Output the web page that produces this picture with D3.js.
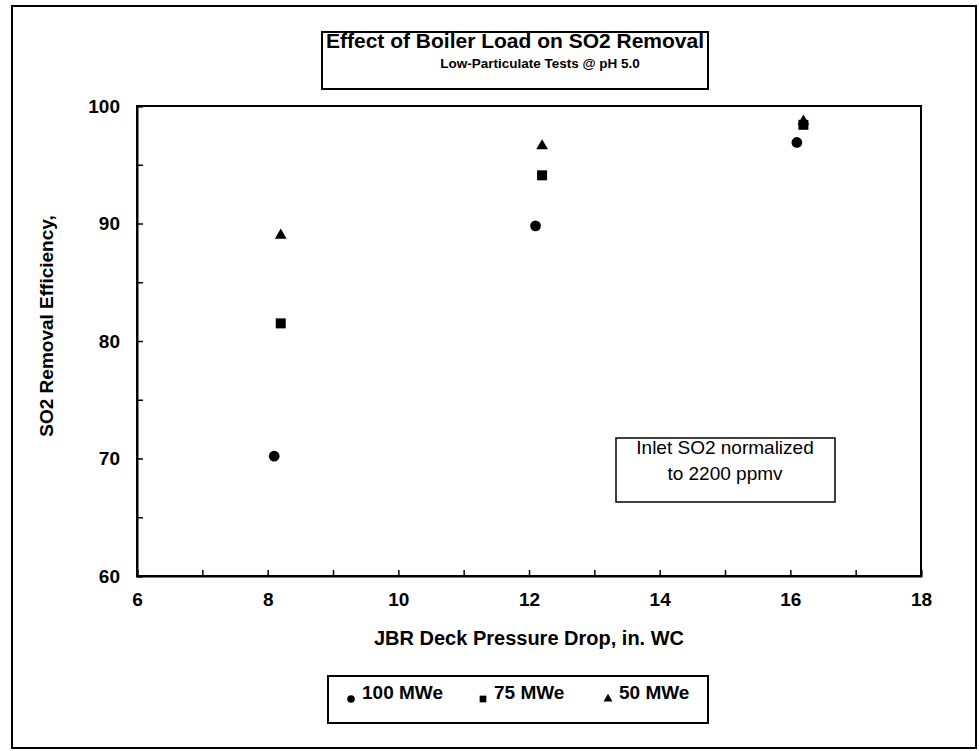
<!DOCTYPE html>
<html>
<head>
<meta charset="utf-8">
<script src="https://cdn.jsdelivr.net/npm/d3@7"></script>
<style>
  body { margin: 0; background: #fff; }
  text { font-family: "Liberation Sans", Arial, sans-serif; }
</style>
</head>
<body>
<div id="chart"></div>
<script>
// data
var loads = ['100 MWe', '75 MWe', '50 MWe'];
var dp100 = [8.1, 12.1, 16.1];
var eff100 = [70.2, 89.8, 96.9];
var dp75 = [8.2, 12.2, 16.2];
var eff75 = [81.5, 94.1, 98.4];
var dp50 = [8.2, 12.2, 16.2];
var eff50 = [89.0, 96.6, 98.7];
var xTicks = [6, 7, 8, 9, 10, 11, 12, 13, 14, 15, 16, 17, 18];
var yTicks = [60, 65, 70, 75, 80, 85, 90, 95, 100];

var width = 979, height = 751;
var margin = {top: 106, right: 58, bottom: 175, left: 137};

var svg = d3.select('#chart').append('svg')
    .attr('width', width)
    .attr('height', height);

// outer frame
svg.append('rect')
    .attr('x', 12).attr('y', 6)
    .attr('width', 964).attr('height', 742)
    .attr('fill', 'none').attr('stroke', '#000').attr('stroke-width', 2);

var xScale = d3.scaleLinear().domain([6, 18]).range([margin.left, width - margin.right]);
var yScale = d3.scaleLinear().domain([60, 100]).range([height - margin.bottom, margin.top]);

// plot frame
svg.append('rect')
    .attr('x', xScale(6)).attr('y', yScale(100))
    .attr('width', xScale(18) - xScale(6)).attr('height', yScale(60) - yScale(100))
    .attr('fill', 'none').attr('stroke', '#000').attr('stroke-width', 2);

var xAxis = svg.append('g')
    .attr('transform', `translate(0,${yScale(60)})`)
    .call(d3.axisBottom(xScale).tickValues(xTicks).tickSize(-6).tickPadding(17)
        .tickFormat(function(d) { return d % 2 === 0 ? d : ''; }));

var yAxis = svg.append('g')
    .attr('transform', `translate(${xScale(6)},0)`)
    .call(d3.axisLeft(yScale).tickValues(yTicks).tickSize(-6).tickPadding(17)
        .tickFormat(function(d) { return d % 10 === 0 ? d : ''; }));

[xAxis, yAxis].forEach(function(ax) {
    ax.attr('font-size', 19)
      .attr('font-family', '"Liberation Sans", Arial, sans-serif')
      .attr('font-weight', 'bold');
});
svg.selectAll('.domain').attr('stroke-width', 2);
svg.selectAll('.tick line').attr('stroke-width', 1.5);
svg.selectAll('.tick text').attr('fill', '#000');

// axis titles
svg.append('text')
    .attr('x', (xScale(6) + xScale(18)) / 2).attr('y', 645)
    .attr('text-anchor', 'middle')
    .style('font-size', '20px').style('font-weight', 'bold')
    .text('JBR Deck Pressure Drop, in. WC');

svg.append('text')
    .attr('transform', 'translate(53,326) rotate(-90)')
    .attr('text-anchor', 'middle')
    .style('font-size', '19px').style('font-weight', 'bold')
    .text('SO2 Removal Efficiency,');

// title box
svg.append('text')
    .attr('x', 515).attr('y', 48)
    .attr('text-anchor', 'middle')
    .style('font-size', '21px').style('font-weight', 'bold')
    .text('Effect of Boiler Load on SO2 Removal');
svg.append('rect')
    .attr('x', 322).attr('y', 32).attr('width', 386).attr('height', 57)
    .attr('fill', 'none').attr('stroke', '#000').attr('stroke-width', 2);
svg.append('text')
    .attr('x', 540).attr('y', 68)
    .attr('text-anchor', 'middle')
    .style('font-size', '13.5px').style('font-weight', 'bold')
    .text('Low-Particulate Tests @ pH 5.0');

// note box
svg.append('text')
    .attr('x', 725).attr('y', 454)
    .attr('text-anchor', 'middle')
    .style('font-size', '19px')
    .text('Inlet SO2 normalized');
svg.append('text')
    .attr('x', 725).attr('y', 480)
    .attr('text-anchor', 'middle')
    .style('font-size', '19px')
    .text('to 2200 ppmv');
svg.append('rect')
    .attr('x', 616).attr('y', 438).attr('width', 219).attr('height', 64)
    .attr('fill', 'none').attr('stroke', '#000').attr('stroke-width', 1.5);

// points
var series = [
    {name: loads[0], x: dp100, y: eff100, sym: d3.symbolCircle, size: 90},
    {name: loads[1], x: dp75, y: eff75, sym: d3.symbolSquare, size: 100},
    {name: loads[2], x: dp50, y: eff50, sym: d3.symbolTriangle, size: 60}
];

series.forEach(function(s) {
    svg.append('g').selectAll('path')
        .data(s.x.map(function(v, i) { return [v, s.y[i]]; }))
        .enter()
        .append('path')
        .attr('d', d3.symbol().type(s.sym).size(s.size))
        .attr('transform', function(d) { return `translate(${xScale(d[0])},${yScale(d[1])})`; })
        .attr('fill', '#000');
});

// legend
svg.append('rect')
    .attr('x', 328).attr('y', 676).attr('width', 380).attr('height', 47)
    .attr('fill', '#fff').attr('stroke', '#000').attr('stroke-width', 2);
var legX = [351, 483, 608];
var legSize = [45, 45, 35];
series.forEach(function(s, i) {
    svg.append('path')
        .attr('d', d3.symbol().type(s.sym).size(legSize[i]))
        .attr('transform', `translate(${legX[i]},699)`)
        .attr('fill', '#000');
    svg.append('text')
        .attr('x', legX[i] + 11).attr('y', 699)
        .style('font-size', '19px').style('font-weight', 'bold')
        .text(s.name);
});
</script>
</body>
</html>
